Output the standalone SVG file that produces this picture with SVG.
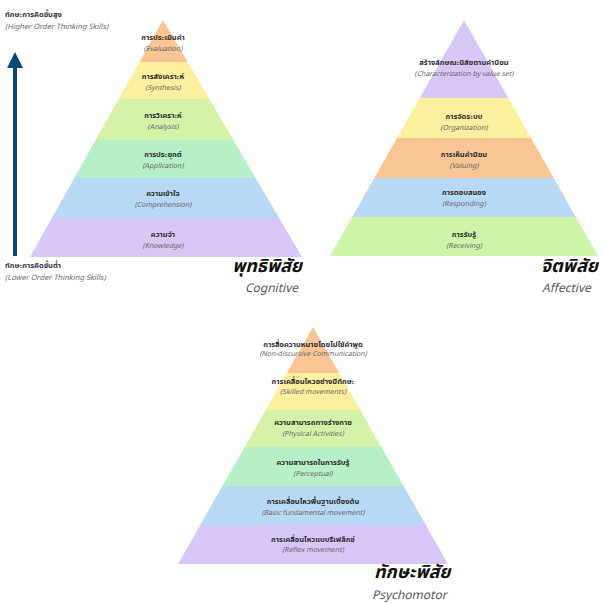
<svg xmlns="http://www.w3.org/2000/svg" width="604" height="604" viewBox="0 0 604 604">
<style>
text{font-family:"Noto Sans Thai","Noto Sans","DejaVu Sans","Liberation Sans",sans-serif;text-anchor:middle}
.th{font-size:7.5px;font-weight:bold;fill:#2b2b2b}
.en{font-size:7px;font-style:italic;fill:#666}
.side-th{font-size:7.5px;font-weight:bold;fill:#333;text-anchor:start}
.side-en{font-size:7.5px;font-style:italic;fill:#666;text-anchor:start}
.title{font-size:18px;font-weight:bold;font-style:italic;fill:#111}
.sub{font-size:12px;font-style:italic;fill:#555}
.c-or{fill:#f9c594}.c-ye{fill:#fcef9e}.c-lg{fill:#d5f3a8}.c-mi{fill:#b7efc6}.c-bl{fill:#b8d9f6}.c-pu{fill:#d8c7f6}.c-gr{fill:#cdf4a8}
</style>
<defs>
<clipPath id="cpCog"><polygon points="163,20 30,257 302,257"/></clipPath>
<clipPath id="cpAff"><polygon points="464,20 330,256 598,256"/></clipPath>
<clipPath id="cpPsy"><polygon points="313,327 178,564 448,564"/></clipPath>
<marker id="ah" markerWidth="4" markerHeight="4" refX="2" refY="2" orient="auto" markerUnits="strokeWidth">
<path d="M0,0 L4,2 L0,4 Z" fill="#0d4679"/>
</marker>
</defs>
<rect width="604" height="604" fill="#fff"/>

<g id="connectors">
<line x1="15" y1="256" x2="15" y2="60" stroke="#0d4679" stroke-width="4" marker-end="url(#ah)"/>
</g>

<g id="skill-labels">
<text class="side-th" x="5" y="17">ทักษะการคิดขั้นสูง</text>
<text class="side-en" x="5" y="29">(Higher Order Thinking Skills)</text>
<text class="side-th" x="5" y="268">ทักษะการคิดขั้นต่ำ</text>
<text class="side-en" x="5" y="280">(Lower Order Thinking Skills)</text>
</g>

<g id="cognitive">
<g clip-path="url(#cpCog)">
<rect class="c-or" x="0" y="18" width="320" height="44"/>
<rect class="c-ye" x="0" y="62" width="320" height="37"/>
<rect class="c-lg" x="0" y="99" width="320" height="41"/>
<rect class="c-mi" x="0" y="140" width="320" height="38"/>
<rect class="c-bl" x="0" y="178" width="320" height="40"/>
<rect class="c-pu" x="0" y="218" width="320" height="40"/>
</g>
<g id="cog-evaluation"><text class="th" x="163" y="40">การประเมินค่า</text><text class="en" x="163" y="51">(Evaluation)</text></g>
<g id="cog-synthesis"><text class="th" x="163" y="79">การสังเคราะห์</text><text class="en" x="163" y="90">(Synthesis)</text></g>
<g id="cog-analysis"><text class="th" x="163" y="118">การวิเคราะห์</text><text class="en" x="163" y="129">(Analysis)</text></g>
<g id="cog-application"><text class="th" x="163" y="157">การประยุกต์</text><text class="en" x="163" y="168">(Application)</text></g>
<g id="cog-comprehension"><text class="th" x="163" y="196">ความเข้าใจ</text><text class="en" x="163" y="207">(Comprehension)</text></g>
<g id="cog-knowledge"><text class="th" x="163" y="237">ความจำ</text><text class="en" x="163" y="248">(Knowledge)</text></g>
<g id="cog-title"><text class="title" x="302" y="272" style="text-anchor:end">พุทธิพิสัย</text><text class="sub" x="298" y="292" style="text-anchor:end">Cognitive</text></g>
</g>

<g id="affective">
<g clip-path="url(#cpAff)">
<rect class="c-pu" x="320" y="18" width="284" height="80"/>
<rect class="c-ye" x="320" y="98" width="284" height="40"/>
<rect class="c-or" x="320" y="138" width="284" height="40"/>
<rect class="c-bl" x="320" y="178" width="284" height="39"/>
<rect class="c-gr" x="320" y="217" width="284" height="40"/>
</g>
<g id="aff-characterization"><text class="th" x="464" y="65">สร้างลักษณะนิสัยตามค่านิยม</text><text class="en" x="464" y="76">(Characterization by value set)</text></g>
<g id="aff-organization"><text class="th" x="464" y="119">การจัดระบบ</text><text class="en" x="464" y="130">(Organization)</text></g>
<g id="aff-valuing"><text class="th" x="464" y="157">การเห็นค่านิยม</text><text class="en" x="464" y="168">(Valuing)</text></g>
<g id="aff-responding"><text class="th" x="464" y="195">การตอบสนอง</text><text class="en" x="464" y="206">(Responding)</text></g>
<g id="aff-receiving"><text class="th" x="464" y="237">การรับรู้</text><text class="en" x="464" y="248">(Receiving)</text></g>
<g id="aff-title"><text class="title" x="541" y="272" style="text-anchor:start">จิตพิสัย</text><text class="sub" x="542" y="292" style="text-anchor:start">Affective</text></g>
</g>

<g id="psychomotor">
<g clip-path="url(#cpPsy)">
<rect class="c-or" x="170" y="325" width="290" height="48"/>
<rect class="c-ye" x="170" y="373" width="290" height="37"/>
<rect class="c-lg" x="170" y="410" width="290" height="37"/>
<rect class="c-mi" x="170" y="447" width="290" height="39"/>
<rect class="c-bl" x="170" y="486" width="290" height="39"/>
<rect class="c-pu" x="170" y="525" width="290" height="40"/>
</g>
<g id="psy-nondiscursive"><text class="th" x="313" y="347">การสื่อความหมายโดยไม่ใช้คำพูด</text><text class="en" x="313" y="356">(Non-discursive Communication)</text></g>
<g id="psy-skilled"><text class="th" x="313" y="384">การเคลื่อนไหวอย่างมีทักษะ</text><text class="en" x="313" y="394">(Skilled movements)</text></g>
<g id="psy-physical"><text class="th" x="313" y="425">ความสามารถทางร่างกาย</text><text class="en" x="313" y="436">(Physical Activities)</text></g>
<g id="psy-perceptual"><text class="th" x="313" y="465">ความสามารถในการรับรู้</text><text class="en" x="313" y="476">(Perceptual)</text></g>
<g id="psy-basic"><text class="th" x="313" y="504">การเคลื่อนไหวพื้นฐานเบื้องต้น</text><text class="en" x="313" y="515">(Basic fundamental movement)</text></g>
<g id="psy-reflex"><text class="th" x="313" y="542">การเคลื่อนไหวแบบรีเฟล็กซ์</text><text class="en" x="313" y="552">(Reflex movement)</text></g>
<g id="psy-title"><text class="title" x="374" y="578" style="text-anchor:start">ทักษะพิสัย</text><text class="sub" x="372" y="599" style="text-anchor:start">Psychomotor</text></g>
</g>
</svg>
